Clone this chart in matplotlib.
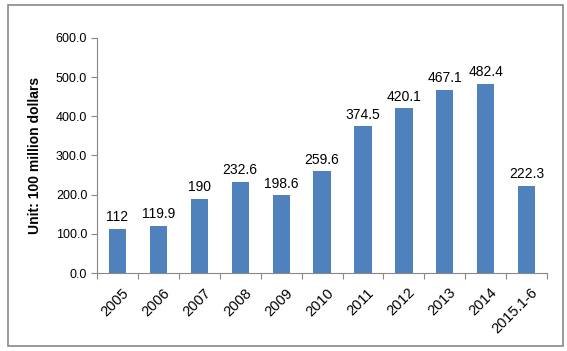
import numpy as np
import matplotlib
matplotlib.use("Agg")
import matplotlib.pyplot as plt
from matplotlib.patches import Rectangle

plt.rcParams['font.family'] = ['Liberation Sans', 'DejaVu Sans']

# data
years = ['2005', '2006', '2007', '2008', '2009', '2010', '2011',
         '2012', '2013', '2014', '2015.1-6']
values = [112, 119.9, 190, 232.6, 198.6, 259.6, 374.5, 420.1, 467.1, 482.4, 222.3]
labels = ['112', '119.9', '190', '232.6', '198.6', '259.6', '374.5',
          '420.1', '467.1', '482.4', '222.3']

fig = plt.figure(figsize=(5.67, 3.51), dpi=100)
ax = fig.add_axes([0.171, 0.222, 0.794, 0.670])

x = np.arange(len(years))
ax.bar(x, values, width=0.42, color='#4f81bd', zorder=2)
for xi, v, lab in zip(x, values, labels):
    ax.text(xi, v + 12, lab, ha='center', va='bottom', fontsize=10, color='black')

ax.set_xlim(-0.5, len(years) - 0.5)
ax.set_ylim(0, 600)
ax.set_yticks(np.arange(0, 601, 100))
ax.set_yticklabels(['%.1f' % t for t in np.arange(0, 601, 100)], fontsize=9)

# category ticks sit between bars, labels under bar centres
ax.set_xticks(np.arange(-0.5, len(years), 1))
ax.set_xticklabels([])
ax.set_xticks(x + 0.1, minor=True)
ax.set_xticklabels(years, minor=True, rotation=45, ha='right',
                   rotation_mode='anchor', fontsize=10.5)
ax.tick_params(axis='x', which='minor', length=0, pad=9)
ax.tick_params(axis='x', which='major', length=4, color='#888888')
ax.tick_params(axis='y', length=4, color='#888888', pad=3)

for s in ['top', 'right']:
    ax.spines[s].set_visible(False)
for s in ['left', 'bottom']:
    ax.spines[s].set_color('#888888')

ax.set_ylabel('Unit: 100 million dollars', fontsize=10, fontweight='bold', labelpad=10)

# outer chart frame
fig.patches.append(Rectangle((8 / 567, 5 / 351), 555 / 567, 341 / 351,
                             transform=fig.transFigure, fill=False,
                             edgecolor='#888888', linewidth=1.2))

fig.savefig('out.png', dpi=100)
